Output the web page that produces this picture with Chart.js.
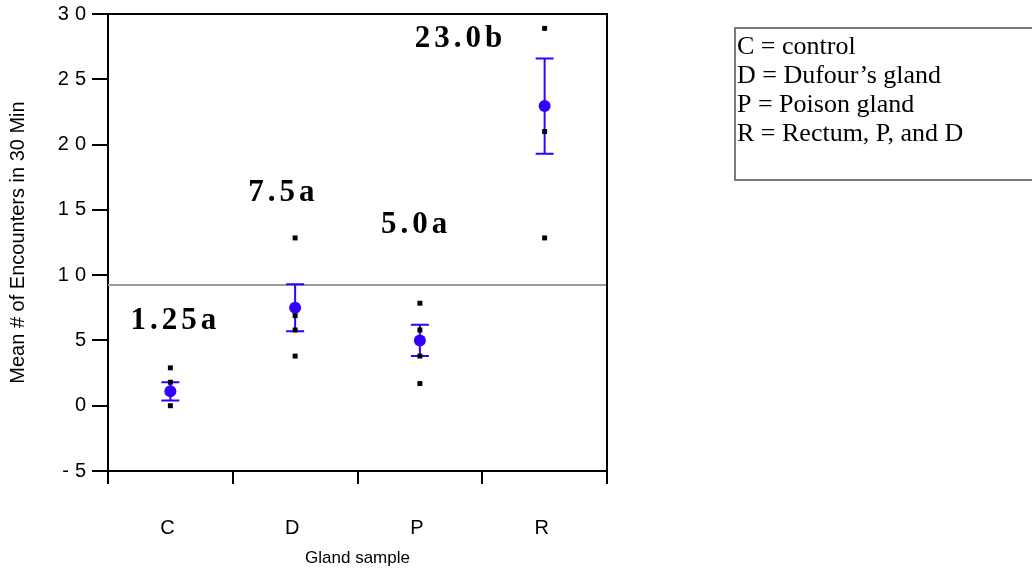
<!DOCTYPE html>
<html><head><meta charset="utf-8">
<script src="https://cdn.jsdelivr.net/npm/chart.js@4.4.1/dist/chart.umd.min.js"></script>
<style>html,body{margin:0;padding:0;background:#fff;} #wrap{width:1032px;height:573px;position:relative;}</style>
</head><body><div id="wrap"><canvas id="c" width="1032" height="573"></canvas></div>
<script>
// ---- data ----
const categories = ['C', 'D', 'P', 'R'];
const meanValues = [1.1, 7.5, 5.0, 22.95];
const errorValues = [0.7, 1.8, 1.2, 3.65];
const rawC = [0, 1.8, 2.9];
const rawD = [3.8, 5.8, 6.9, 12.85];
const rawP = [1.7, 3.8, 5.8, 7.85];
const rawR = [12.85, 21.0, 28.9];
const referenceLine = 9.25;
const groupLabels = ['1.25a', '7.5a', '5.0a', '23.0b'];
const yTickStep = 5;
const yMin = -5, yMax = 30;
const legendLines = ['C = control', 'D = Dufour\u2019s gland', 'P = Poison gland', 'R = Rectum, P, and D'];
const xTitle = 'Gland sample';
const yTitle = 'Mean # of Encounters in 30 Min';

// ---- style / layout ----
const BLUE = '#3300ff';
const SANS = "'Liberation Sans', Arial, sans-serif";
const SERIF = "'Liberation Serif', 'Times New Roman', serif";
// annotation placement: pixel offset from category centre, and y position in data units
const labelPlacement = [
  {dx: -40, yv: 6.5},
  {dx: -47, yv: 16.3},
  {dx: -39, yv: 13.85},
  {dx: -130, yv: 28.1}
];

const rawPoints = [rawC, rawD, rawP, rawR].flatMap((arr, i) => arr.map(v => ({x: categories[i], y: v})));

const overlay = {
  id: 'overlay',
  beforeDraw(chart) { chart.ctx.letterSpacing = '6px'; },
  beforeDatasetsDraw(chart) {
    const {ctx, chartArea: a, scales: {x, y}} = chart;
    ctx.save();
    ctx.strokeStyle = '#9a9a9a'; ctx.lineWidth = 2;
    const yy = y.getPixelForValue(referenceLine);
    ctx.beginPath(); ctx.moveTo(a.left, yy); ctx.lineTo(a.right, yy); ctx.stroke();
    ctx.strokeStyle = BLUE; ctx.lineWidth = 2;
    categories.forEach((c, i) => {
      const px = x.getPixelForValue(i);
      const t = y.getPixelForValue(meanValues[i] + errorValues[i]);
      const b = y.getPixelForValue(meanValues[i] - errorValues[i]);
      ctx.beginPath();
      ctx.moveTo(px, t); ctx.lineTo(px, b);
      ctx.moveTo(px - 9, t); ctx.lineTo(px + 9, t);
      ctx.moveTo(px - 9, b); ctx.lineTo(px + 9, b);
      ctx.stroke();
    });
    ctx.restore();
  },
  afterDraw(chart) {
    const {ctx, chartArea: a, scales: {x, y}} = chart;
    ctx.save();
    // frame top & right
    ctx.strokeStyle = '#000'; ctx.lineWidth = 2;
    ctx.beginPath(); ctx.moveTo(a.left, a.top); ctx.lineTo(a.right, a.top); ctx.lineTo(a.right, a.bottom); ctx.stroke();
    // group labels
    ctx.fillStyle = '#000';
    ctx.letterSpacing = '4px';
    ctx.font = 'bold 31px ' + SERIF;
    ctx.textAlign = 'left'; ctx.textBaseline = 'middle';
    groupLabels.forEach((t, i) => {
      const p = labelPlacement[i];
      ctx.fillText(t, x.getPixelForValue(i) + p.dx, y.getPixelForValue(p.yv));
    });
    // legend box
    ctx.letterSpacing = '0px';
    ctx.strokeStyle = '#7a7a7a'; ctx.lineWidth = 2;
    ctx.strokeRect(735, 28, 400, 152);
    ctx.font = '26px ' + SERIF;
    ctx.textBaseline = 'alphabetic';
    legendLines.forEach((t, i) => ctx.fillText(t, 737, 54 + i * 29));
    // axis titles
    ctx.font = '17px ' + SANS;
    ctx.textAlign = 'center'; ctx.textBaseline = 'middle';
    ctx.fillText(xTitle, (a.left + a.right) / 2, 558);
    ctx.font = '20px ' + SANS;
    ctx.translate(18, (a.top + a.bottom) / 2);
    ctx.rotate(-Math.PI / 2);
    ctx.fillText(yTitle, 0, 0);
    ctx.restore();
  }
};

new Chart(document.getElementById('c'), {
  type: 'line',
  data: {
    labels: categories,
    datasets: [
      {label: 'raw', data: rawPoints, showLine: false, pointStyle: 'rect', pointRadius: 3.5,
       pointBackgroundColor: '#000', pointBorderWidth: 0, order: 0},
      {label: 'mean', data: meanValues, showLine: false, pointRadius: 6,
       pointBackgroundColor: BLUE, pointBorderWidth: 0, order: 1}
    ]
  },
  options: {
    responsive: false, animation: false, devicePixelRatio: 1,
    layout: {padding: {left: 0, right: 425, top: 14, bottom: 0}},
    plugins: {legend: {display: false}, tooltip: {enabled: false}},
    scales: {
      x: {
        type: 'category', offset: true,
        grid: {offset: true, drawOnChartArea: false, tickLength: 13, color: '#000', lineWidth: 2},
        border: {display: true, color: '#000', width: 2},
        ticks: {color: '#000', font: {family: SANS, size: 20}, padding: 32},
        afterFit(s) { s.height = 102; }
      },
      y: {
        min: yMin, max: yMax,
        ticks: {stepSize: yTickStep, color: '#000', font: {family: SANS, size: 20}, padding: 0},
        grid: {drawOnChartArea: false, tickLength: 16, color: '#000', lineWidth: 2},
        border: {display: true, color: '#000', width: 2},
        afterFit(s) { s.width = 108; }
      }
    }
  },
  plugins: [overlay]
});
</script>
</body></html>
